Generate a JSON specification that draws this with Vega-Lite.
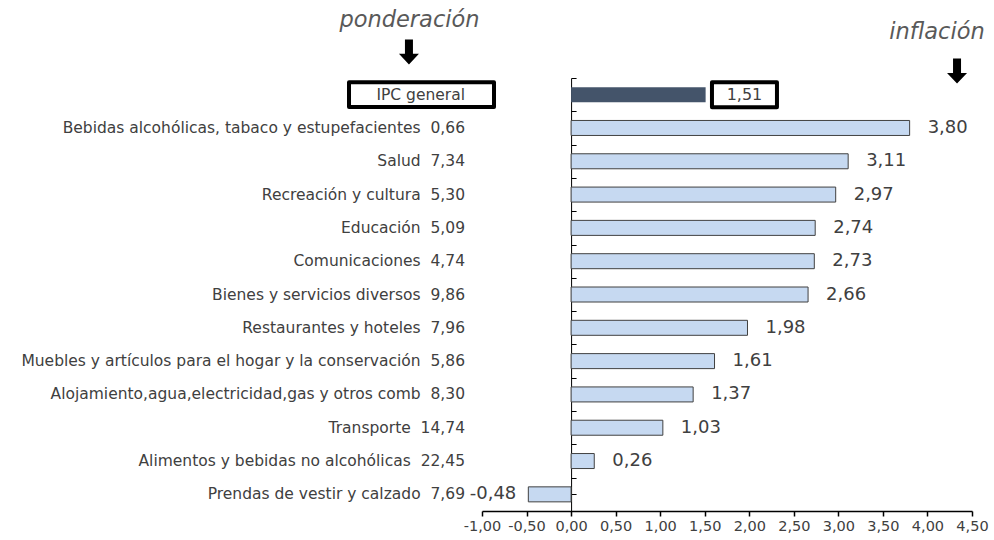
{
  "$schema": "https://vega.github.io/schema/vega-lite/v6.json",
  "autosize": {"type": "none"},
  "padding": {"left": 482, "top": 78, "right": 22, "bottom": 29},
  "width": 490,
  "height": 433,
  "background": "white",
  "config": {
    "view": {"stroke": null},
    "font": "DejaVu Sans",
    "locale": {"number": {"decimal": ",", "thousands": ".", "grouping": [3], "currency": ["", " €"], "minus": "-"}}
  },
  "data": {"values": [
    {"rank": 1, "name": "IPC general", "w": null, "v": 1.51},
    {"rank": 2, "name": "Bebidas alcohólicas, tabaco y estupefacientes", "w": 0.66, "v": 3.80},
    {"rank": 3, "name": "Salud", "w": 7.34, "v": 3.11},
    {"rank": 4, "name": "Recreación y cultura", "w": 5.30, "v": 2.97},
    {"rank": 5, "name": "Educación", "w": 5.09, "v": 2.74},
    {"rank": 6, "name": "Comunicaciones", "w": 4.74, "v": 2.73},
    {"rank": 7, "name": "Bienes y servicios diversos", "w": 9.86, "v": 2.66},
    {"rank": 8, "name": "Restaurantes y hoteles", "w": 7.96, "v": 1.98},
    {"rank": 9, "name": "Muebles y artículos para el hogar y la conservación", "w": 5.86, "v": 1.61},
    {"rank": 10, "name": "Alojamiento,agua,electricidad,gas y otros comb", "w": 8.30, "v": 1.37},
    {"rank": 11, "name": "Transporte", "w": 14.74, "v": 1.03},
    {"rank": 12, "name": "Alimentos y bebidas no alcohólicas", "w": 22.45, "v": 0.26},
    {"rank": 13, "name": "Prendas de vestir y calzado", "w": 7.69, "v": -0.48}
  ]},
  "encoding": {
    "y": {
      "field": "rank", "type": "quantitative",
      "scale": {"domain": [0.5, 13.5], "reverse": true, "nice": false, "zero": false, "padding": 0},
      "axis": {
        "orient": "right", "offset": -400.91, "title": null, "labels": false, "grid": false,
        "values": [0.5,1,1.5,2,2.5,3,3.5,4,4.5,5,5.5,6,6.5,7,7.5,8,8.5,9,9.5,10,10.5,11,11.5,12,12.5,13,13.5],
        "tickSize": 5, "tickColor": "#000000", "domainColor": "#000000", "domainWidth": 1, "tickWidth": 1
      }
    }
  },
  "layer": [
    {
      "transform": [{"filter": "datum.rank > 1"}],
      "mark": {"type": "bar", "orient": "horizontal", "size": 15, "fill": "#C6D9F1", "stroke": "#404040", "strokeWidth": 1},
      "encoding": {
        "x": {
          "field": "v", "type": "quantitative",
          "scale": {"domain": [-1, 4.5], "nice": false, "padding": 0},
          "axis": {
            "title": null, "grid": false, "values": [-1,-0.5,0,0.5,1,1.5,2,2.5,3,3.5,4,4.5],
            "format": ".2f", "labelFont": "DejaVu Sans", "labelFontSize": 14.5, "labelColor": "#404040",
            "labelOverlap": false, "labelBound": false, "labelFlush": false,
            "domainColor": "#000000", "domainWidth": 1.5, "tickColor": "#000000", "tickSize": 5, "tickWidth": 1.5,
            "labelPadding": 3
          }
        }
      }
    },
    {
      "transform": [{"filter": "datum.rank == 1"}],
      "mark": {"type": "bar", "orient": "horizontal", "size": 15, "fill": "#44546A"},
      "encoding": {"x": {"field": "v", "type": "quantitative"}}
    },
    {
      "transform": [{"calculate": "datum.w == null ? datum.name : datum.name + '\u00a0 ' + replace(format(datum.w, '.2f'), '.', ',')", "as": "label"}],
      "mark": {"type": "text", "align": "right", "baseline": "middle", "dx": -17, "fontSize": 15.5, "color": "#404040", "font": "DejaVu Sans"},
      "encoding": {"x": {"datum": -1}, "text": {"field": "label"}}
    },
    {
      "transform": [{"filter": "datum.v > 0 && datum.rank > 1"}],
      "mark": {"type": "text", "align": "left", "baseline": "middle", "dx": 18, "fontSize": 18, "color": "#404040", "font": "DejaVu Sans"},
      "encoding": {"x": {"field": "v", "type": "quantitative"}, "text": {"field": "v", "format": ".2f"}}
    },
    {
      "transform": [{"filter": "datum.v < 0"}],
      "mark": {"type": "text", "align": "right", "baseline": "middle", "dx": -12, "fontSize": 18, "color": "#404040", "font": "DejaVu Sans"},
      "encoding": {"x": {"field": "v", "type": "quantitative"}, "text": {"field": "v", "format": ".2f"}}
    },
    {
      "transform": [{"filter": "datum.rank == 1"}],
      "mark": {"type": "text", "align": "center", "baseline": "middle", "fontSize": 16, "color": "#404040", "font": "DejaVu Sans"},
      "encoding": {"x": {"datum": 1.946}, "text": {"field": "v", "format": ".2f"}}
    },
    {
      "transform": [{"filter": "datum.rank == 1"}],
      "mark": {"type": "point", "shape": "M-1,-0.385H1V0.385H-1Z", "size": 4225, "filled": false, "stroke": "#000000", "strokeWidth": 4, "opacity": 1, "strokeJoin": "round"},
      "encoding": {"x": {"datum": 1.946}}
    },
    {
      "transform": [{"filter": "datum.rank == 1"}],
      "mark": {"type": "point", "shape": "M-1,-0.172H1V0.172H-1Z", "size": 21025, "filled": false, "stroke": "#000000", "strokeWidth": 4, "opacity": 1, "strokeJoin": "round"},
      "encoding": {"x": {"datum": -1.679}}
    },
    {
      "data": {"values": [{"t": "ponderación", "px": -1.814, "py": -1.241}, {"t": "inflación", "px": 4.107, "py": -0.881}]},
      "mark": {"type": "text", "align": "center", "baseline": "middle", "fontSize": 22.5, "fontStyle": "italic", "color": "#595959", "font": "DejaVu Sans"},
      "encoding": {"x": {"field": "px", "type": "quantitative"}, "y": {"field": "py", "type": "quantitative"}, "text": {"field": "t"}}
    },
    {
      "data": {"values": [{"px": -1.82, "py": -0.281}, {"px": 4.332, "py": 0.29}]},
      "mark": {"type": "point", "shape": "M-0.32,-1H0.32V0.15H0.8L0,1L-0.8,0.15H-0.32Z", "size": 625, "filled": true, "fill": "#000000", "opacity": 1, "strokeWidth": 0},
      "encoding": {"x": {"field": "px", "type": "quantitative"}, "y": {"field": "py", "type": "quantitative"}}
    }
  ]
}
